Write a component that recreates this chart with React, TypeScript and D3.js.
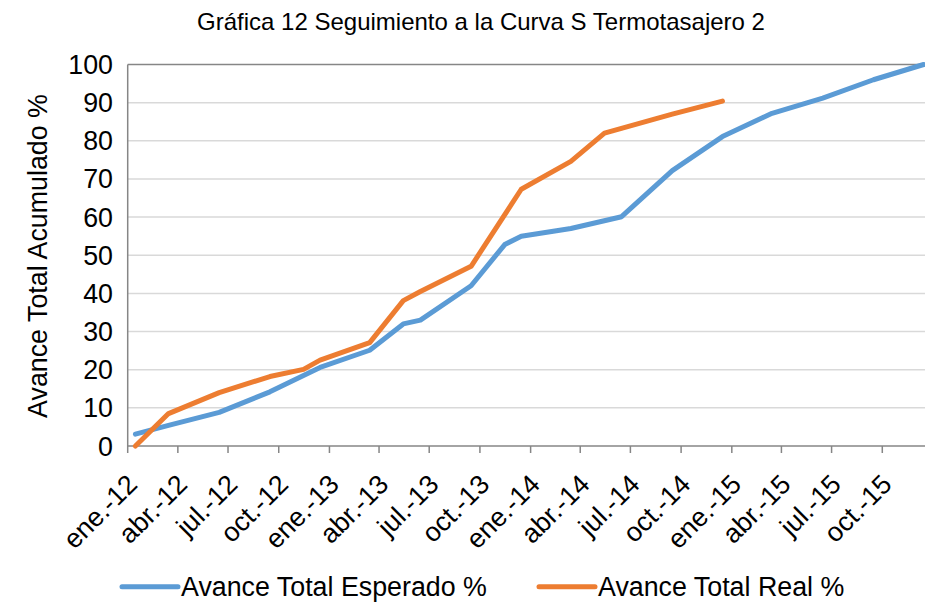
import React from "react";
import * as d3 from "d3";

const esperadoDates = [
  "2012-01-15", "2012-03-15", "2012-06-15", "2012-09-15", "2012-12-15",
  "2013-03-15", "2013-05-15", "2013-06-15", "2013-09-15", "2013-11-15",
  "2013-12-15", "2014-03-15", "2014-06-15", "2014-09-15", "2014-12-15",
  "2015-03-15", "2015-06-15", "2015-09-15", "2015-12-15",
];
const esperadoValues = [
  3.1, 5.4, 8.8, 14.2, 20.6,
  25.1, 32.0, 33.0, 42.0, 52.8,
  55.0, 57.0, 60.1, 72.2, 81.1,
  87.2, 91.2, 96.0, 100,
];

const realDates = [
  "2012-01-15", "2012-03-15", "2012-06-15", "2012-09-15", "2012-11-15",
  "2012-12-15", "2013-03-15", "2013-05-15", "2013-06-15", "2013-09-15",
  "2013-12-15", "2014-03-15", "2014-05-15", "2014-09-15", "2014-12-15",
];
const realValues = [
  0, 8.5, 14.0, 18.2, 20.1,
  22.5, 27.1, 38.1, 40.5, 47.1,
  67.3, 74.6, 82.0, 87.0, 90.4,
];

const tickDates = [
  "2012-01-01", "2012-04-01", "2012-07-01", "2012-10-01",
  "2013-01-01", "2013-04-01", "2013-07-01", "2013-10-01",
  "2014-01-01", "2014-04-01", "2014-07-01", "2014-10-01",
  "2015-01-01", "2015-04-01", "2015-07-01", "2015-10-01",
];
const tickLabels = [
  "ene.-12", "abr.-12", "jul.-12", "oct.-12",
  "ene.-13", "abr.-13", "jul.-13", "oct.-13",
  "ene.-14", "abr.-14", "jul.-14", "oct.-14",
  "ene.-15", "abr.-15", "jul.-15", "oct.-15",
];
const yTicks = [0, 10, 20, 30, 40, 50, 60, 70, 80, 90, 100];

const seriesNames = ["Avance Total Esperado %", "Avance Total Real %"];
const colors = ["#5B9BD5", "#ED7D31"];

const title = "Gráfica 12 Seguimiento a la Curva S Termotasajero 2";
const yTitle = "Avance Total Acumulado %";

const parse = d3.utcParse("%Y-%m-%d");

export default function App() {
  const W = 925;
  const H = 602;
  const left = 127.7;
  const right = 933;
  const top = 64.5;
  const bottom = 446;

  const x = d3
    .scaleUtc()
    .domain([parse("2012-01-01") as Date, parse("2016-01-01") as Date])
    .range([left, right]);
  const y = d3.scaleLinear().domain([0, 100]).range([bottom, top]);

  const line = d3
    .line<[Date, number]>()
    .x((d) => x(d[0]))
    .y((d) => y(d[1]));

  const esperado: [Date, number][] = esperadoDates.map((d, i) => [parse(d) as Date, esperadoValues[i]]);
  const real: [Date, number][] = realDates.map((d, i) => [parse(d) as Date, realValues[i]]);

  const font = "'Liberation Sans', Arial, sans-serif";
  const fs = 26.8;

  return (
    <svg
      width={W}
      height={H}
      style={{ position: "absolute", left: 0, top: 0, background: "#fff" }}
      fontFamily={font}
    >
      <rect x={0} y={0} width={W} height={H} fill="#fff" />
      <text x={481} y={30} textAnchor="middle" fontSize={24} fill="#000">
        {title}
      </text>

      {yTicks.map((t) => (
        <g key={t}>
          {t > 0 && t < 100 && (
            <line x1={left} x2={right} y1={y(t)} y2={y(t)} stroke="#D9D9D9" strokeWidth={1.5} />
          )}
          <text x={113} y={y(t) + 9.5} textAnchor="end" fontSize={fs} fill="#000">
            {t}
          </text>
        </g>
      ))}

      <line x1={left} x2={right} y1={top} y2={top} stroke="#868686" strokeWidth={1.5} />
      <line x1={left} x2={left} y1={top} y2={bottom} stroke="#868686" strokeWidth={1.5} />
      <line x1={left} x2={right} y1={bottom} y2={bottom} stroke="#868686" strokeWidth={1.5} />

      {tickDates.map((d, i) => {
        const tx = x(parse(d) as Date);
        return (
          <g key={d}>
            <line x1={tx} x2={tx} y1={bottom} y2={bottom + 7} stroke="#868686" strokeWidth={1.5} />
            <text
              transform={`translate(${tx + 11},${bottom + 40}) rotate(-45)`}
              textAnchor="end"
              fontSize={fs}
              fill="#000"
            >
              {tickLabels[i]}
            </text>
          </g>
        );
      })}

      <text
        transform={`translate(47,256) rotate(-90)`}
        textAnchor="middle"
        fontSize={fs}
        fill="#000"
      >
        {yTitle}
      </text>

      <path
        d={line(esperado) || ""}
        fill="none"
        stroke={colors[0]}
        strokeWidth={5}
        strokeLinejoin="round"
        strokeLinecap="round"
      />
      <path
        d={line(real) || ""}
        fill="none"
        stroke={colors[1]}
        strokeWidth={5}
        strokeLinejoin="round"
        strokeLinecap="round"
      />

      {[0, 1].map((i) => {
        const lx = i === 0 ? 122 : 539;
        return (
          <g key={i}>
            <line x1={lx} x2={lx + 56} y1={586.7} y2={586.7} stroke={colors[i]} strokeWidth={5} strokeLinecap="round" />
            <text x={lx + 59} y={595.5} fontSize={fs} fill="#000">
              {seriesNames[i]}
            </text>
          </g>
        );
      })}
    </svg>
  );
}
